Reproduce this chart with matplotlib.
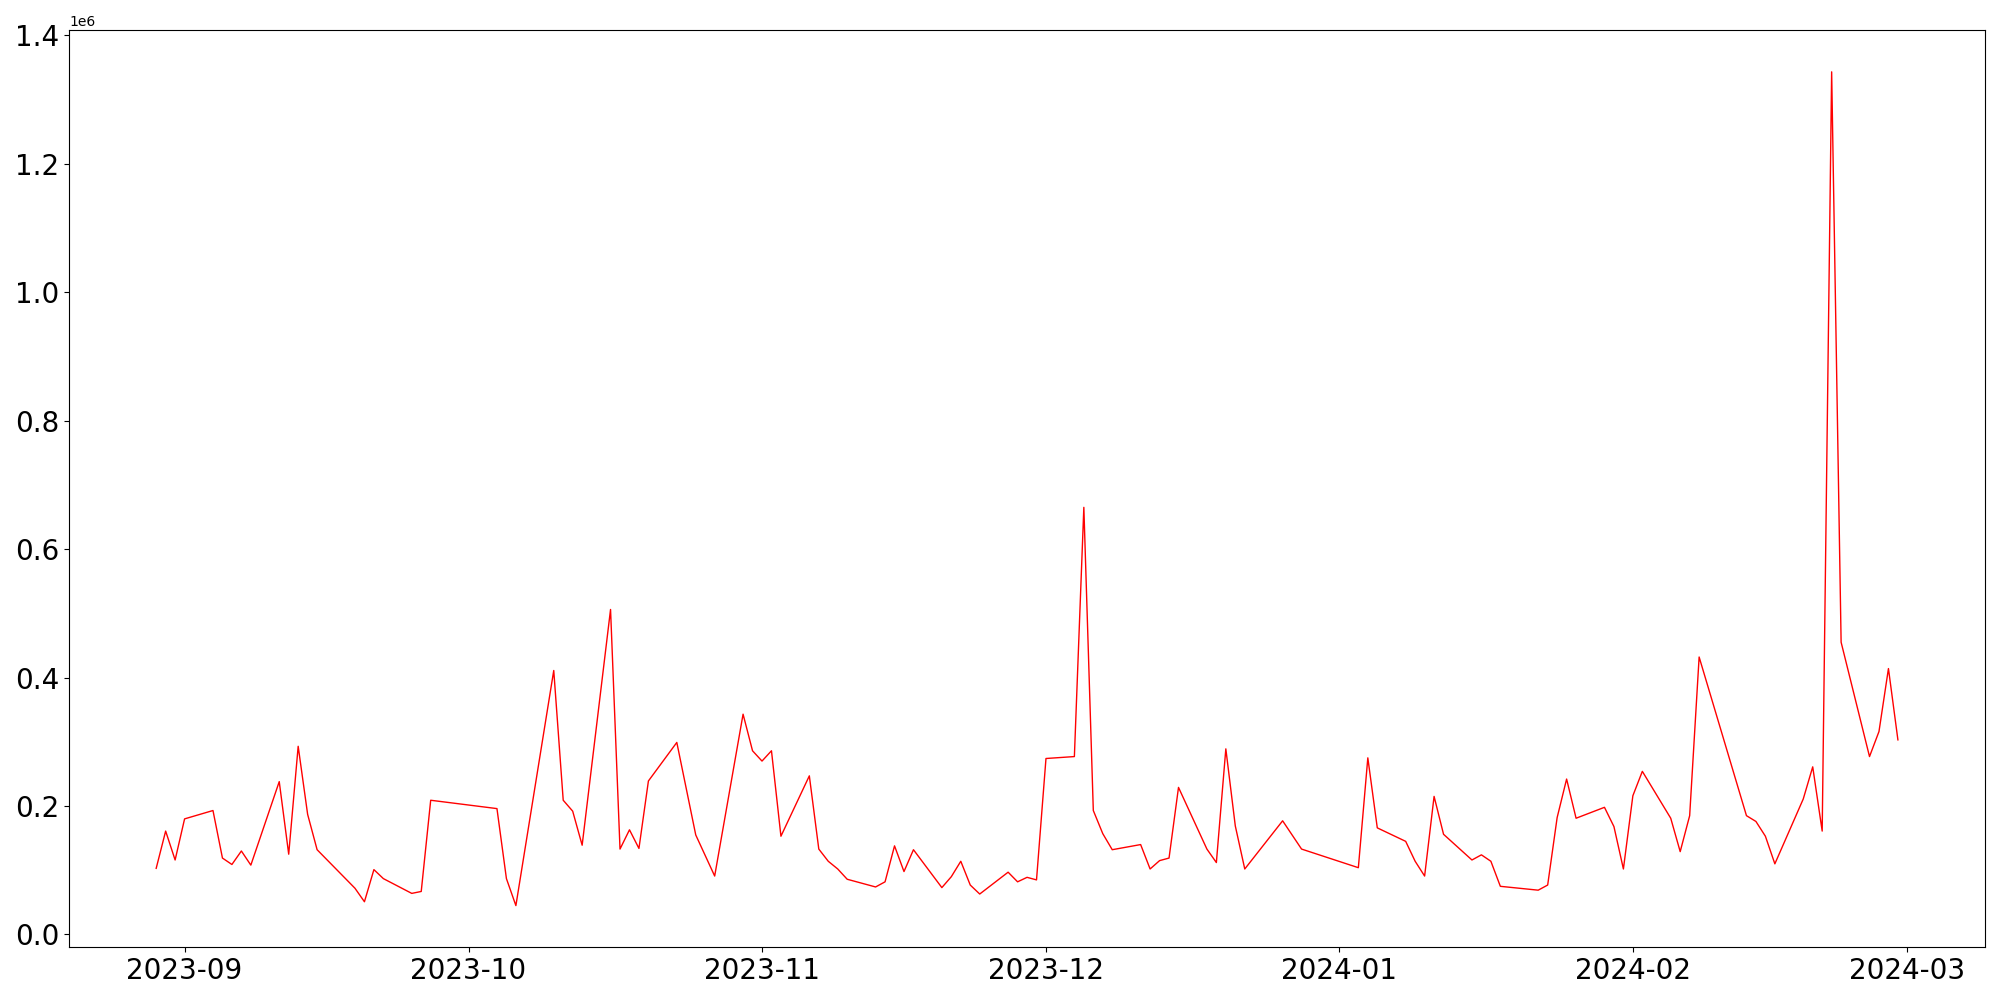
import numpy as np
import matplotlib
matplotlib.use("Agg")
import matplotlib.pyplot as plt

dates = [
    "2023-08-29", "2023-08-30", "2023-08-31", "2023-09-01", "2023-09-04",
    "2023-09-05", "2023-09-06", "2023-09-07", "2023-09-08", "2023-09-11",
    "2023-09-12", "2023-09-13", "2023-09-14", "2023-09-15", "2023-09-19",
    "2023-09-20", "2023-09-21", "2023-09-22", "2023-09-25", "2023-09-26",
    "2023-09-27", "2023-10-04", "2023-10-05", "2023-10-06", "2023-10-10",
    "2023-10-11", "2023-10-12", "2023-10-13", "2023-10-16", "2023-10-17",
    "2023-10-18", "2023-10-19", "2023-10-20", "2023-10-23", "2023-10-25",
    "2023-10-27", "2023-10-30", "2023-10-31", "2023-11-01", "2023-11-02",
    "2023-11-03", "2023-11-06", "2023-11-07", "2023-11-08", "2023-11-09",
    "2023-11-10", "2023-11-13", "2023-11-14", "2023-11-15", "2023-11-16",
    "2023-11-17", "2023-11-20", "2023-11-21", "2023-11-22", "2023-11-23",
    "2023-11-24", "2023-11-27", "2023-11-28", "2023-11-29", "2023-11-30",
    "2023-12-01", "2023-12-04", "2023-12-05", "2023-12-06", "2023-12-07",
    "2023-12-08", "2023-12-11", "2023-12-12", "2023-12-13", "2023-12-14",
    "2023-12-15", "2023-12-18", "2023-12-19", "2023-12-20", "2023-12-21",
    "2023-12-22", "2023-12-26", "2023-12-28", "2024-01-03", "2024-01-04",
    "2024-01-05", "2024-01-08", "2024-01-09", "2024-01-10", "2024-01-11",
    "2024-01-12", "2024-01-15", "2024-01-16", "2024-01-17", "2024-01-18",
    "2024-01-22", "2024-01-23", "2024-01-24", "2024-01-25", "2024-01-26",
    "2024-01-29", "2024-01-30", "2024-01-31", "2024-02-01", "2024-02-02",
    "2024-02-05", "2024-02-06", "2024-02-07", "2024-02-08", "2024-02-13",
    "2024-02-14", "2024-02-15", "2024-02-16", "2024-02-19", "2024-02-20",
    "2024-02-21", "2024-02-22", "2024-02-23", "2024-02-26", "2024-02-27",
    "2024-02-28", "2024-02-29",
]

# values in millions
values_m = [
    0.103, 0.161, 0.116, 0.180, 0.193,
    0.119, 0.109, 0.130, 0.108, 0.238,
    0.125, 0.293, 0.187, 0.132, 0.072,
    0.051, 0.101, 0.087, 0.064, 0.067,
    0.209, 0.196, 0.087, 0.045, 0.411,
    0.209, 0.192, 0.139, 0.506, 0.133,
    0.163, 0.134, 0.239, 0.299, 0.155,
    0.091, 0.343, 0.286, 0.270, 0.286,
    0.153, 0.247, 0.133, 0.114, 0.102,
    0.086, 0.074, 0.082, 0.138, 0.098,
    0.132, 0.073, 0.090, 0.114, 0.077,
    0.063, 0.097, 0.082, 0.089, 0.085,
    0.274, 0.277, 0.665, 0.193, 0.157,
    0.132, 0.140, 0.102, 0.115, 0.119,
    0.229, 0.133, 0.112, 0.289, 0.169,
    0.102, 0.177, 0.133, 0.104, 0.275,
    0.166, 0.145, 0.114, 0.091, 0.215,
    0.156, 0.116, 0.124, 0.114, 0.075,
    0.069, 0.077, 0.182, 0.242, 0.181,
    0.198, 0.168, 0.102, 0.216, 0.254,
    0.181, 0.129, 0.185, 0.432, 0.185,
    0.176, 0.153, 0.110, 0.211, 0.261,
    0.161, 1.343, 0.455, 0.277, 0.316,
    0.414, 0.303,
]

x = np.array(dates, dtype="datetime64[D]")
y = np.array(values_m) * 1e6

fig, ax = plt.subplots(figsize=(20, 10), dpi=100)
ax.plot(x, y, color="red", linewidth=1.0)
ax.tick_params(axis="both", labelsize=20)
fig.tight_layout()
fig.savefig("out.png")
